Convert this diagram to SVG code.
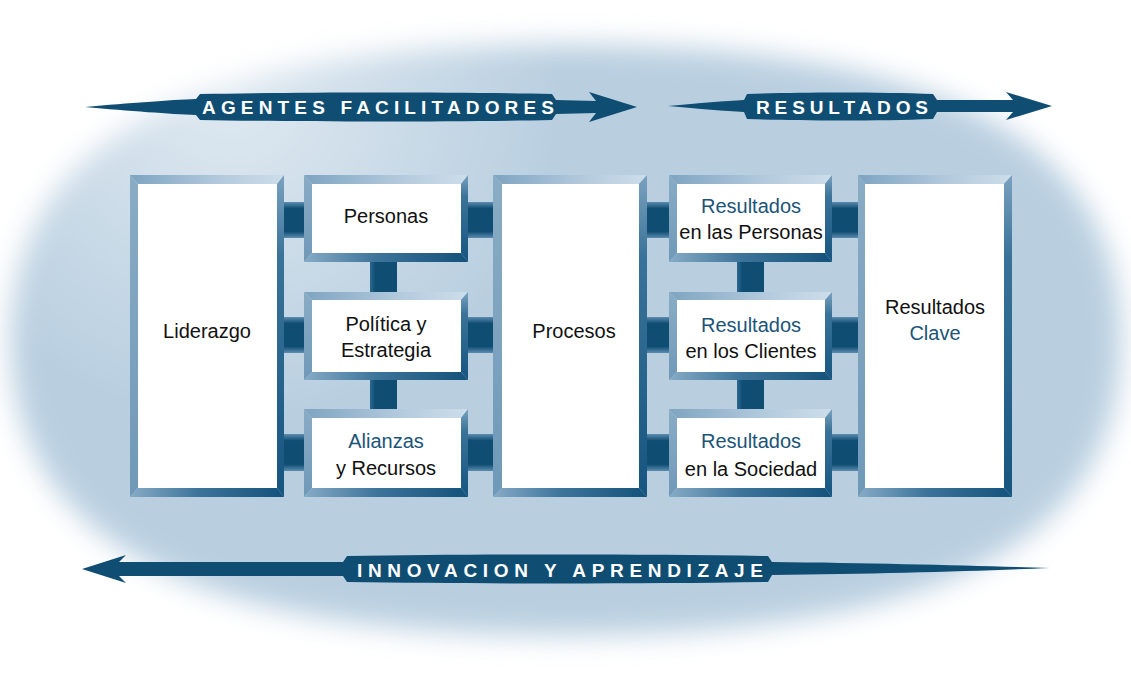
<svg xmlns="http://www.w3.org/2000/svg" width="1131" height="675" viewBox="0 0 1131 675">
<defs>
  <filter id="soft" x="-10%" y="-10%" width="120%" height="120%">
    <feGaussianBlur stdDeviation="14"/>
  </filter>
  <radialGradient id="sheen" cx="230" cy="90" r="330" gradientUnits="userSpaceOnUse">
    <stop offset="0" stop-color="#ffffff" stop-opacity="0.55"/>
    <stop offset="1" stop-color="#ffffff" stop-opacity="0"/>
  </radialGradient>
  <linearGradient id="gTop" x1="0" y1="0" x2="1" y2="0">
    <stop offset="0" stop-color="#7ea4c1"/>
    <stop offset="0.6" stop-color="#b4cbde"/>
    <stop offset="1" stop-color="#cddeea"/>
  </linearGradient>
  <linearGradient id="gLeft" x1="0" y1="0" x2="0" y2="1">
    <stop offset="0" stop-color="#8aacc5"/>
    <stop offset="1" stop-color="#6f99b8"/>
  </linearGradient>
  <linearGradient id="gRight" x1="0" y1="0" x2="0" y2="1">
    <stop offset="0" stop-color="#7ba2bf"/>
    <stop offset="0.25" stop-color="#3a7399"/>
    <stop offset="1" stop-color="#165580"/>
  </linearGradient>
  <linearGradient id="gBottom" x1="0" y1="0" x2="1" y2="0">
    <stop offset="0" stop-color="#86abc6"/>
    <stop offset="0.45" stop-color="#3c7399"/>
    <stop offset="1" stop-color="#14527b"/>
  </linearGradient>
  <linearGradient id="gConH" x1="0" y1="0" x2="0" y2="1">
    <stop offset="0" stop-color="#5d8db0"/>
    <stop offset="0.18" stop-color="#0f4d73"/>
    <stop offset="0.82" stop-color="#0f4d73"/>
    <stop offset="1" stop-color="#5d8db0"/>
  </linearGradient>
  <linearGradient id="gConV" x1="0" y1="0" x2="1" y2="0">
    <stop offset="0" stop-color="#2d6890"/>
    <stop offset="0.2" stop-color="#0f4d73"/>
    <stop offset="1" stop-color="#0f4d73"/>
  </linearGradient>
  <style>
    .ft{fill:url(#gTop)}
    .fl{fill:url(#gLeft)}
    .fr{fill:url(#gRight)}
    .fb{fill:url(#gBottom)}
    .in{fill:#ffffff}
    .ch{fill:url(#gConH)}
    .cv{fill:url(#gConV)}
    .band{fill:#0f4d73}
    .bt{font-family:"Liberation Sans",Arial,sans-serif;font-weight:bold;font-size:19px;fill:#ffffff}
    .t{font-family:"Liberation Sans",Arial,sans-serif;font-size:20px;fill:#111111;text-anchor:middle}
    .b{fill:#1b5478}
  </style>
</defs>

<rect x="0" y="0" width="1131" height="675" fill="#ffffff"/>
<path d="M11,340 C11,139 189,45 566,45 C943,45 1121,139 1121,340 C1121,541 943,635 566,635 C189,635 11,541 11,340 Z" fill="#b9cfe0" filter="url(#soft)"/>
<rect x="0" y="0" width="700" height="420" fill="url(#sheen)"/>

<g id="band-agentes">
  <path class="band" d="M85,107 C130,103 170,100 196,99 L200,94 C300,92 460,92 552,94 L556,100 L596,101 L589,92 L637,107 L589,122 L596,113 L556,114 L552,120 C460,122 300,122 200,120 L196,115 C170,114 130,111 85,107 Z"/>
  <text class="bt" x="202" y="114" textLength="352" lengthAdjust="spacing">AGENTES FACILITADORES</text>
</g>
<g id="band-resultados">
  <path class="band" d="M668,106 C700,103 725,101 744,100 L747,94 C800,92 880,92 933,94 L937,100 L1013,100 L1006,92 L1052,106 L1006,120 L1013,112 L937,112 L933,119 C880,121 800,121 747,119 L744,112 C725,111 700,109 668,106 Z"/>
  <text class="bt" x="756" y="114" textLength="172" lengthAdjust="spacing">RESULTADOS</text>
</g>
<g id="band-innovacion">
  <path class="band" d="M82,569 L126,555 L119,562 L343,562 L347,556 C480,554 640,554 768,556 L772,562 C880,563 980,566 1050,568 C980,571 880,574 772,575 L768,582 C640,584 480,584 347,582 L343,576 L119,576 L126,583 Z"/>
  <text class="bt" x="357" y="577" textLength="406" lengthAdjust="spacing">INNOVACION Y APRENDIZAJE</text>
</g>

<g id="connectors">
  <rect class="ch" x="280" y="202" width="28" height="36"/>
  <rect class="ch" x="280" y="317" width="28" height="36"/>
  <rect class="ch" x="280" y="434" width="28" height="37"/>
  <rect class="ch" x="464" y="202" width="33" height="36"/>
  <rect class="ch" x="464" y="317" width="33" height="36"/>
  <rect class="ch" x="464" y="434" width="33" height="37"/>
  <rect class="ch" x="643" y="202" width="30" height="36"/>
  <rect class="ch" x="643" y="317" width="30" height="36"/>
  <rect class="ch" x="643" y="434" width="30" height="37"/>
  <rect class="ch" x="828" y="202" width="34" height="36"/>
  <rect class="ch" x="828" y="317" width="34" height="36"/>
  <rect class="ch" x="828" y="434" width="34" height="37"/>
  <rect class="cv" x="370" y="258" width="27" height="38"/>
  <rect class="cv" x="370" y="376" width="27" height="37"/>
  <rect class="cv" x="737" y="258" width="27" height="38"/>
  <rect class="cv" x="737" y="376" width="27" height="37"/>
</g>

<g id="liderazgo">
  <polygon class="ft" points="130,175 284,175 277,184 138,184"/>
  <polygon class="fl" points="130,175 138,184 138,488 130,497"/>
  <polygon class="fr" points="284,175 284,497 277,488 277,184"/>
  <polygon class="fb" points="130,497 138,488 277,488 284,497"/>
  <rect class="in" x="138" y="184" width="139" height="304"/>
  <text class="t" x="207" y="338">Liderazgo</text>
</g>

<g id="personas">
  <polygon class="ft" points="304,175 468,175 461,184 312,184"/>
  <polygon class="fl" points="304,175 312,184 312,253 304,262"/>
  <polygon class="fr" points="468,175 468,262 461,253 461,184"/>
  <polygon class="fb" points="304,262 312,253 461,253 468,262"/>
  <rect class="in" x="312" y="184" width="149" height="69"/>
  <text class="t" x="386" y="223">Personas</text>
</g>

<g id="politica">
  <polygon class="ft" points="304,292 468,292 461,300 312,300"/>
  <polygon class="fl" points="304,292 312,300 312,372 304,380"/>
  <polygon class="fr" points="468,292 468,380 461,372 461,300"/>
  <polygon class="fb" points="304,380 312,372 461,372 468,380"/>
  <rect class="in" x="312" y="300" width="149" height="72"/>
  <text class="t" x="386" y="331">Política y</text>
  <text class="t" x="386" y="357">Estrategia</text>
</g>

<g id="alianzas">
  <polygon class="ft" points="304,409 468,409 461,418 312,418"/>
  <polygon class="fl" points="304,409 312,418 312,488 304,497"/>
  <polygon class="fr" points="468,409 468,497 461,488 461,418"/>
  <polygon class="fb" points="304,497 312,488 461,488 468,497"/>
  <rect class="in" x="312" y="418" width="149" height="70"/>
  <text class="t b" x="386" y="448">Alianzas</text>
  <text class="t" x="386" y="475">y Recursos</text>
</g>

<g id="procesos">
  <polygon class="ft" points="493,175 647,175 639,184 502,184"/>
  <polygon class="fl" points="493,175 502,184 502,488 493,497"/>
  <polygon class="fr" points="647,175 647,497 639,488 639,184"/>
  <polygon class="fb" points="493,497 502,488 639,488 647,497"/>
  <rect class="in" x="502" y="184" width="137" height="304"/>
  <text class="t" x="574" y="338">Procesos</text>
</g>

<g id="res-personas">
  <polygon class="ft" points="669,175 832,175 825,184 677,184"/>
  <polygon class="fl" points="669,175 677,184 677,253 669,262"/>
  <polygon class="fr" points="832,175 832,262 825,253 825,184"/>
  <polygon class="fb" points="669,262 677,253 825,253 832,262"/>
  <rect class="in" x="677" y="184" width="148" height="69"/>
  <text class="t b" x="751" y="213">Resultados</text>
  <text class="t" x="751" y="239">en las Personas</text>
</g>

<g id="res-clientes">
  <polygon class="ft" points="669,292 832,292 825,300 677,300"/>
  <polygon class="fl" points="669,292 677,300 677,372 669,380"/>
  <polygon class="fr" points="832,292 832,380 825,372 825,300"/>
  <polygon class="fb" points="669,380 677,372 825,372 832,380"/>
  <rect class="in" x="677" y="300" width="148" height="72"/>
  <text class="t b" x="751" y="332">Resultados</text>
  <text class="t" x="751" y="358">en los Clientes</text>
</g>

<g id="res-sociedad">
  <polygon class="ft" points="669,409 832,409 825,418 677,418"/>
  <polygon class="fl" points="669,409 677,418 677,488 669,497"/>
  <polygon class="fr" points="832,409 832,497 825,488 825,418"/>
  <polygon class="fb" points="669,497 677,488 825,488 832,497"/>
  <rect class="in" x="677" y="418" width="148" height="70"/>
  <text class="t b" x="751" y="448">Resultados</text>
  <text class="t" x="751" y="476">en la Sociedad</text>
</g>

<g id="res-clave">
  <polygon class="ft" points="858,175 1012,175 1004,184 865,184"/>
  <polygon class="fl" points="858,175 865,184 865,488 858,497"/>
  <polygon class="fr" points="1012,175 1012,497 1004,488 1004,184"/>
  <polygon class="fb" points="858,497 865,488 1004,488 1012,497"/>
  <rect class="in" x="865" y="184" width="139" height="304"/>
  <text class="t" x="935" y="314">Resultados</text>
  <text class="t b" x="935" y="340">Clave</text>
</g>
</svg>
